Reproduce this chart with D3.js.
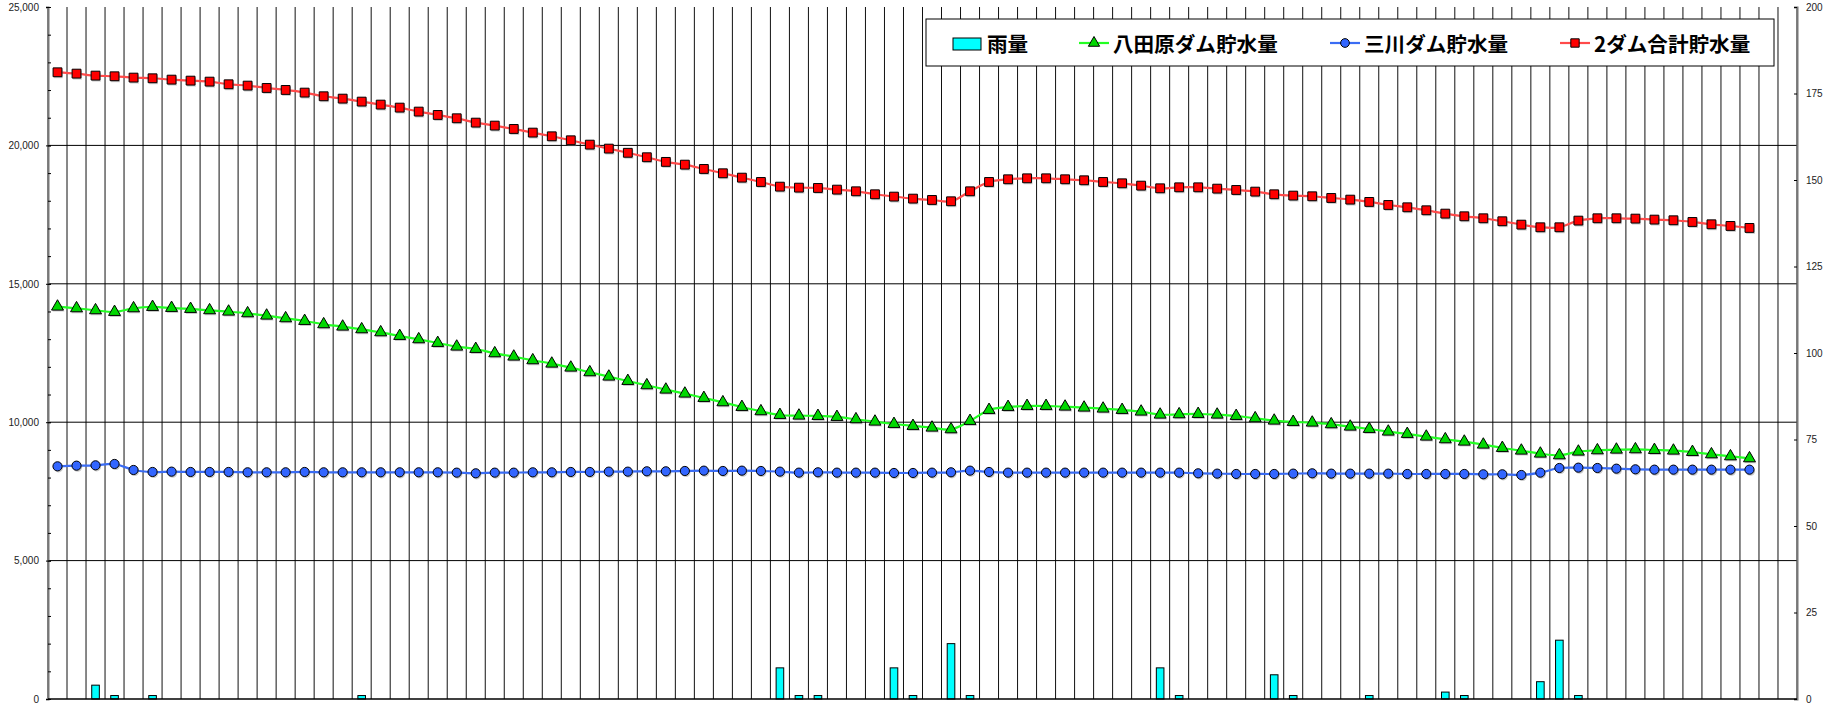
<!DOCTYPE html>
<html lang="ja">
<head>
<meta charset="utf-8">
<script src="https://cdn.jsdelivr.net/npm/d3@7"></script>
<style>
  html, body { margin: 0; padding: 0; background: #fff; }
  svg { display: block; }
  .tick text { font-family: "Liberation Sans", Arial, sans-serif; font-size: 10px; fill: #222; }
</style>
</head>
<body>
<svg id="dam-svg" width="1834" height="709"></svg>
<script>
// 雨量 (mm, right axis) and 貯水量 (千m3, left axis), one value per day
const rain = [
  0, 0, 4, 1, 0, 1, 0, 0, 0, 0,
  0, 0, 0, 0, 0, 0, 1, 0, 0, 0,
  0, 0, 0, 0, 0, 0, 0, 0, 0, 0,
  0, 0, 0, 0, 0, 0, 0, 0, 9, 1,
  1, 0, 0, 0, 9, 1, 0, 16, 1, 0,
  0, 0, 0, 0, 0, 0, 0, 0, 9, 1,
  0, 0, 0, 0, 7, 1, 0, 0, 0, 1,
  0, 0, 0, 2, 1, 0, 0, 0, 5, 17,
  1, 0, 0, 0, 0, 0, 0, 0, 0, 0
];

const hattabara = [
  14175, 14115, 14043, 13982, 14115, 14163, 14127, 14091, 14043, 13994,
  13934, 13850, 13754, 13657, 13537, 13452, 13356, 13247, 13115, 12995,
  12862, 12730, 12646, 12489, 12369, 12236, 12115, 11971, 11803, 11646,
  11489, 11333, 11176, 11032, 10875, 10718, 10550, 10394, 10261, 10237,
  10225, 10189, 10105, 10020, 9936, 9864, 9803, 9743, 10044, 10442,
  10550, 10586, 10586, 10562, 10526, 10490, 10442, 10382, 10273, 10285,
  10297, 10273, 10225, 10141, 10056, 10008, 9984, 9924, 9839, 9755,
  9659, 9575, 9478, 9382, 9297, 9189, 9069, 8972, 8864, 8803,
  8936, 8984, 9008, 9020, 8996, 8972, 8924, 8839, 8767, 8695
];

const mikawa = [
  8406, 8430, 8442, 8491, 8274, 8202, 8214, 8202, 8202, 8202,
  8190, 8190, 8190, 8202, 8190, 8190, 8190, 8190, 8190, 8190,
  8190, 8178, 8154, 8178, 8178, 8190, 8190, 8202, 8202, 8214,
  8214, 8226, 8226, 8238, 8250, 8238, 8250, 8238, 8214, 8178,
  8190, 8178, 8178, 8178, 8166, 8166, 8178, 8190, 8250, 8202,
  8178, 8178, 8178, 8178, 8178, 8178, 8178, 8178, 8178, 8178,
  8154, 8142, 8130, 8130, 8130, 8142, 8154, 8142, 8142, 8142,
  8142, 8130, 8130, 8130, 8130, 8118, 8118, 8093, 8178, 8346,
  8358, 8346, 8322, 8298, 8286, 8286, 8286, 8286, 8286, 8286
];

const total = [
  22641, 22593, 22521, 22497, 22449, 22425, 22376, 22340, 22304, 22208,
  22160, 22075, 22003, 21907, 21775, 21690, 21582, 21474, 21365, 21221,
  21100, 20980, 20823, 20715, 20594, 20462, 20329, 20185, 20028, 19884,
  19733, 19572, 19404, 19305, 19149, 18993, 18835, 18679, 18510, 18474,
  18462, 18402, 18342, 18234, 18150, 18077, 18029, 17981, 18342, 18679,
  18776, 18811, 18811, 18776, 18740, 18679, 18631, 18546, 18450, 18486,
  18486, 18438, 18390, 18330, 18234, 18186, 18162, 18101, 18041, 17958,
  17848, 17764, 17656, 17535, 17439, 17367, 17259, 17138, 17042, 17042,
  17283, 17367, 17367, 17355, 17319, 17295, 17234, 17150, 17090, 17018
];

// 92 day slots on the category axis (last two are still empty)
const days = d3.range(1, 93);

const leftTicks = [0, 5000, 10000, 15000, 20000, 25000];
const leftMinorTicks = d3.range(0, 25001, 1000);
const rightTicks = [0, 25, 50, 75, 100, 125, 150, 175, 200];

const legendItems = [
  { label: "雨量", type: "bar" },
  { label: "八田原ダム貯水量", type: "triangle" },
  { label: "三川ダム貯水量", type: "circle" },
  { label: "2ダム合計貯水量", type: "square" }
];

(function drawDamChart() {
  const svg = d3.select("#dam-svg");
  const width = 1834;
  const height = 709;

  const margin = { top: 7, right: 37, bottom: 10, left: 48 };
  const innerWidth = width - margin.left - margin.right;
  const innerHeight = height - margin.top - margin.bottom;

  svg.append("rect")
    .attr("width", width)
    .attr("height", height)
    .attr("fill", "#fff");

  const g = svg.append("g")
    .attr("transform", `translate(${margin.left},${margin.top})`);

  const x = d3.scaleBand()
    .domain(days)
    .range([0, innerWidth])
    .padding(0);

  const cx = i => x(days[i]) + x.bandwidth() / 2;

  const yL = d3.scaleLinear()
    .domain([0, 25000])
    .range([innerHeight, 0]);

  const yR = d3.scaleLinear()
    .domain([0, 200])
    .range([innerHeight, 0]);

  const styles = {
    hattabara: { line: "#22ff22", fill: "#00d800" },
    mikawa: { line: "#3a6cf4", fill: "#3366ff" },
    total: { line: "#ff4a4a", fill: "#ff0000" }
  };

  // vertical grid at every day boundary
  g.append("g")
    .selectAll("line")
    .data(days.concat(["end"]))
    .enter()
    .append("line")
    .attr("x1", d => d === "end" ? innerWidth : x(d))
    .attr("x2", d => d === "end" ? innerWidth : x(d))
    .attr("y1", 0)
    .attr("y2", innerHeight)
    .attr("stroke", "#111")
    .attr("stroke-width", 1);

  // horizontal grid
  g.append("g")
    .selectAll("line")
    .data(leftTicks.filter(v => v > 0 && v < 25000))
    .enter()
    .append("line")
    .attr("x1", 0)
    .attr("x2", innerWidth)
    .attr("y1", d => yL(d))
    .attr("y2", d => yL(d))
    .attr("stroke", "#000")
    .attr("stroke-width", 1);

  // rain bars
  const barW = x.bandwidth() * 0.4;
  g.append("g")
    .selectAll("rect")
    .data(rain.map((v, i) => ({ v, i })).filter(d => d.v > 0))
    .enter()
    .append("rect")
    .attr("x", d => cx(d.i) - barW / 2)
    .attr("y", d => yR(d.v))
    .attr("width", barW)
    .attr("height", d => innerHeight - yR(d.v))
    .attr("fill", "#00ffff")
    .attr("stroke", "#000")
    .attr("stroke-width", 1);

  // axes
  const leftAxis = g.append("g")
    .call(d3.axisLeft(yL)
      .tickValues(leftTicks)
      .tickSize(2)
      .tickPadding(7)
      .tickFormat(d3.format(",")));
  leftAxis.select(".domain").attr("stroke", "#777").attr("stroke-width", 2);
  leftAxis.selectAll(".tick line").attr("x2", 3).attr("x1", -2).attr("stroke", "#000");

  g.append("g")
    .call(d3.axisRight(yL)
      .tickValues(leftMinorTicks)
      .tickSize(3)
      .tickFormat(""))
    .select(".domain").remove();

  const rightAxis = g.append("g")
    .attr("transform", `translate(${innerWidth},0)`)
    .call(d3.axisRight(yR)
      .tickValues(rightTicks)
      .tickSize(-3)
      .tickPadding(9));
  rightAxis.select(".domain").attr("stroke", "#777").attr("stroke-width", 2);

  g.append("line")
    .attr("x1", 0)
    .attr("x2", innerWidth)
    .attr("y1", innerHeight)
    .attr("y2", innerHeight)
    .attr("stroke", "#000")
    .attr("stroke-width", 1.5);

  // lines
  const line = d3.line()
    .x((d, i) => cx(i))
    .y(d => yL(d))
    .curve(d3.curveCatmullRom.alpha(0.5));

  const series = [
    { key: "total", values: total, symbol: d3.symbolSquare, size: 78 },
    { key: "hattabara", values: hattabara, symbol: d3.symbolTriangle, size: 62 },
    { key: "mikawa", values: mikawa, symbol: d3.symbolCircle, size: 66 }
  ];

  series.forEach(s => {
    g.append("path")
      .datum(s.values)
      .attr("d", line)
      .attr("fill", "none")
      .attr("stroke", styles[s.key].line)
      .attr("stroke-width", 2.2);
  });

  series.forEach(s => {
    const sym = d3.symbol().type(s.symbol).size(s.size);
    const pts = g.append("g");

    pts.selectAll(".shadow")
      .data(s.values)
      .enter()
      .append("path")
      .attr("class", "shadow")
      .attr("d", sym)
      .attr("transform", (d, i) => `translate(${cx(i) + 1},${yL(d) + 1.5})`)
      .attr("fill", "#888")
      .attr("opacity", 0.45);

    pts.selectAll(".marker")
      .data(s.values)
      .enter()
      .append("path")
      .attr("class", "marker")
      .attr("d", sym)
      .attr("transform", (d, i) => `translate(${cx(i)},${yL(d)})`)
      .attr("fill", styles[s.key].fill)
      .attr("stroke", "#000")
      .attr("stroke-width", 1);
  });

  // legend
  const legend = svg.append("g")
    .attr("transform", "translate(926,19)");

  legend.append("rect")
    .attr("width", 848)
    .attr("height", 47)
    .attr("fill", "#fff")
    .attr("stroke", "#000")
    .attr("stroke-width", 1);

  const itemX = [27, 153, 404, 634];
  const keyFor = { triangle: "hattabara", circle: "mikawa", square: "total" };
  const symFor = {
    triangle: d3.symbol().type(d3.symbolTriangle).size(55),
    circle: d3.symbol().type(d3.symbolCircle).size(60),
    square: d3.symbol().type(d3.symbolSquare).size(70)
  };

  legendItems.forEach((item, i) => {
    const it = legend.append("g")
      .attr("transform", `translate(${itemX[i]},24)`);

    let textX;
    if (item.type === "bar") {
      it.append("rect")
        .attr("x", 0)
        .attr("y", -5)
        .attr("width", 28)
        .attr("height", 12)
        .attr("fill", "#00ffff")
        .attr("stroke", "#000");
      textX = 34;
    } else {
      const st = styles[keyFor[item.type]];
      it.append("line")
        .attr("x1", 0)
        .attr("x2", 30)
        .attr("y1", 0)
        .attr("y2", 0)
        .attr("stroke", st.line)
        .attr("stroke-width", 2.2);
      it.append("path")
        .attr("d", symFor[item.type])
        .attr("transform", "translate(15,0)")
        .attr("fill", st.fill)
        .attr("stroke", "#000");
      textX = 34;
    }

    it.append("text")
      .attr("x", textX)
      .attr("y", 0)
      .attr("dominant-baseline", "central")
      .style("font-family", "'Noto Sans CJK JP', sans-serif")
      .style("font-weight", "bold")
      .style("font-size", "20.6px")
      .style("fill", "#000")
      .text(item.label);
  });
})();
</script>
</body>
</html>
